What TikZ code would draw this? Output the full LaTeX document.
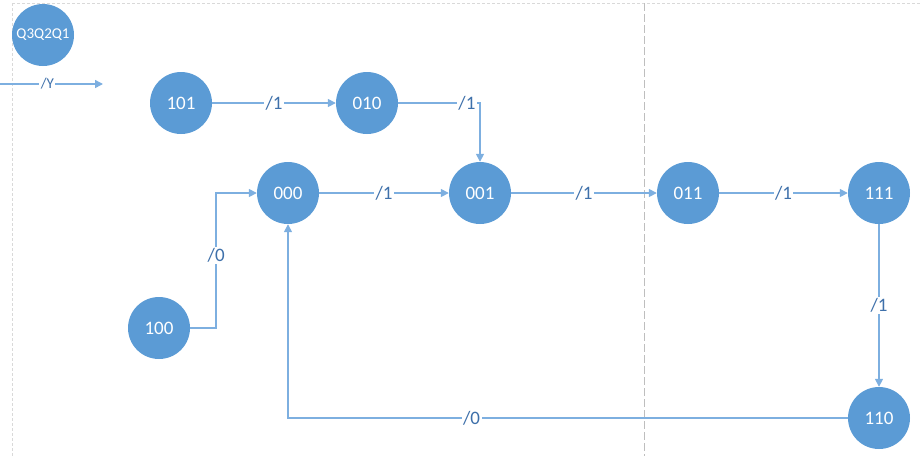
\documentclass[tikz,border=0pt]{standalone}
\usepackage{fontspec}
\setmainfont{Carlito}
\usetikzlibrary{positioning, arrows.meta, calc}
\definecolor{STblue}{RGB}{91, 155, 213}
\definecolor{STline}{RGB}{125, 175, 224}
\definecolor{STtext}{RGB}{62, 112, 170}
\definecolor{STgrid}{RGB}{217, 217, 217}
\definecolor{STsep}{RGB}{190, 190, 190}
\tikzset{
  state/.style={circle, fill=STblue, draw=none, minimum size=62pt, inner sep=0pt,
    text=white, font=\fontsize{19}{19}\selectfont},
  legend/.style={state, font=\fontsize{15}{15}\selectfont},
  flow/.style={-{Triangle[length=8pt, width=8pt]}, line width=1.5pt, STline},
  lab/.style={fill=white, inner sep=1.5pt, text=STtext, font=\fontsize{19}{19}\selectfont},
}
\begin{document}
\begin{tikzpicture}[x=1pt, y=-1pt]
    \useasboundingbox (0,0) rectangle (921,456);
    % page guides
    \draw[STgrid, dash pattern=on 3pt off 2pt] (12,3) -- (921,3);
    \draw[STgrid, dash pattern=on 3pt off 2pt] (12,3) -- (12,456);
    \draw[STsep, line width=1pt, dash pattern=on 8pt off 3pt] (644,3) -- (644,456);
    % states
    \node[legend] (key) at (43,35) {Q3Q2Q1};
    \node[state] (n101) at (181,103) {101};
    \node[state] (n010) at (367,103) {010};
    \node[state] (n000) at (288,193) {000};
    \node[state] (n001) at (480,193) {001};
    \node[state] (n011) at (688,193) {011};
    \node[state] (n111) at (879,193) {111};
    \node[state] (n100) at (159,328) {100};
    \node[state] (n110) at (879,418) {110};
    \coordinate (inA) at (0,84);
    \coordinate (inB) at (103,84);
    % transitions
    \draw[flow] (inA) -- node[lab, pos=0.46, font=\fontsize{15}{15}\selectfont]{/Y} (inB);
    \draw[flow] (n101) -- node[lab]{/1} (n010);
    \draw[flow] (n010) -| node[lab, pos=0.42]{/1} (n001);
    \draw[flow] (n000) -- node[lab]{/1} (n001);
    \draw[flow] (n001) -- node[lab]{/1} (n011);
    \draw[flow] (n011) -- node[lab]{/1} (n111);
    \draw[flow] (n111) -- node[lab]{/1} (n110);
    \draw[flow] (n100.east) -- ++(26,0) |- node[lab, pos=0.27]{/0} (n000.west);
    \draw[flow] (n110) -| node[lab, pos=0.336]{/0} (n000);
  \end{tikzpicture}
\end{document}
